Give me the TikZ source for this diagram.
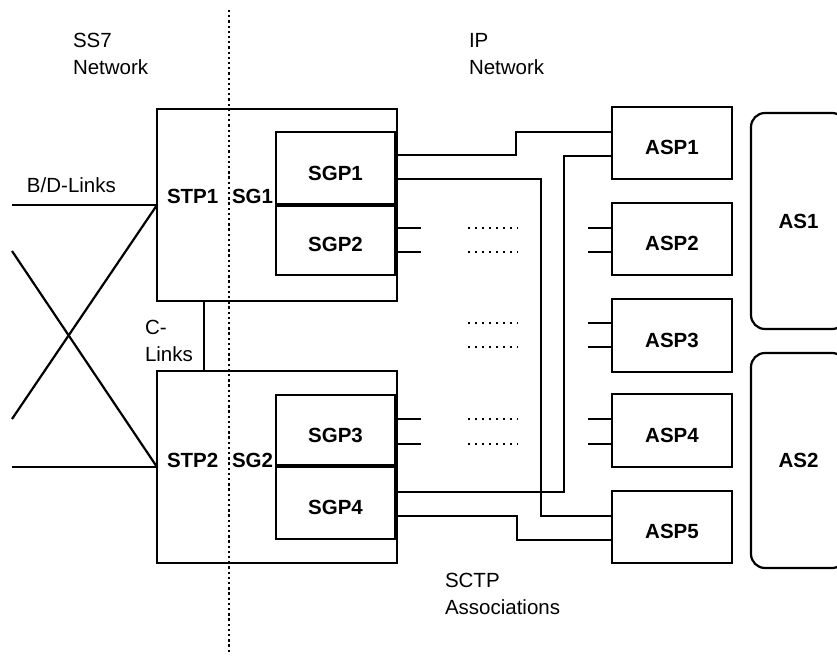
\documentclass[tikz,border=0pt]{standalone}
\usepackage{fontspec}
\setmainfont{Liberation Sans}
\begin{document}
\begin{tikzpicture}[x=1pt,y=-1pt,
  every node/.style={inner sep=0pt, outer sep=0pt, font=\fontsize{20.5}{27.5}\selectfont},
  plainbox/.style={draw, line width=2.2pt, rectangle},
  labbox/.style={draw, line width=2.2pt, rectangle, font=\fontsize{20.5}{27.5}\selectfont\bfseries, text height=23pt, text depth=0pt},
  asbox/.style={draw, line width=2.2pt, rounded corners=14pt, font=\fontsize{20.5}{27.5}\selectfont\bfseries, minimum width=95pt},
  ln/.style={line width=2.2pt},
  hdots/.style={line width=2.4pt, dash pattern=on 2.2pt off 4.8pt},
  vdots/.style={line width=2.5pt, dash pattern=on 2.3pt off 2.9pt},
  boldlab/.style={font=\fontsize{20.5}{27.5}\selectfont\bfseries, anchor=base west}
]
\useasboundingbox (0,0) rectangle (837,658);

% dotted border between networks
\coordinate (vtop) at (229,10);
\coordinate (vbot) at (229,653);
\draw[vdots] (vtop) -- (vbot);

% STP boxes
\node[plainbox, minimum width=240pt, minimum height=192pt] (stp1) at (277,205) {};
\node[plainbox, minimum width=240pt, minimum height=192pt] (stp2) at (277,467) {};

% SGP boxes
\node[labbox, minimum width=119pt, minimum height=73pt] (sgp1) at (335.5,168.5) {SGP1};
\node[labbox, minimum width=119pt, minimum height=70pt] (sgp2) at (335.5,240) {SGP2};
\node[labbox, minimum width=119pt, minimum height=71pt] (sgp3) at (335.5,430.5) {SGP3};
\node[labbox, minimum width=119pt, minimum height=73pt] (sgp4) at (335.5,502.5) {SGP4};
\draw[line width=3.6pt] (sgp1.south west) -- (sgp1.south east);
\draw[line width=3.6pt] (sgp3.south west) -- (sgp3.south east);

% ASP boxes
\node[labbox, minimum width=120pt, minimum height=72pt] (asp1) at (672,143) {ASP1};
\node[labbox, minimum width=120pt, minimum height=72pt] (asp2) at (672,239) {ASP2};
\node[labbox, minimum width=120pt, minimum height=73pt] (asp3) at (672,335.5) {ASP3};
\node[labbox, minimum width=120pt, minimum height=73pt] (asp4) at (672,430.5) {ASP4};
\node[labbox, minimum width=120pt, minimum height=72pt] (asp5) at (672,527) {ASP5};

% AS boxes
\node[asbox, minimum height=216pt] (as1) at (798.5,221) {AS1};
\node[asbox, minimum height=215pt] (as2) at (798.5,460.5) {AS2};

% SS7 links
\coordinate (bd) at (12,205);
\coordinate (xa) at (12,419);
\coordinate (xb) at (12,251);
\coordinate (lo) at (12,467);
\draw[ln] (bd) -- (stp1.west);
\draw[ln] (xa) -- (stp1.west);
\draw[ln] (xb) -- (stp2.west);
\draw[ln] (lo) -- (stp2.west);
\draw[ln] (stp1.south -| 204,0) -- (stp2.north -| 204,0);

% SCTP associations
\draw[ln] (sgp1.east |- 0,155) -- (516,155) |- (asp1.west |- 0,132);
\draw[ln] (sgp1.east |- 0,179) -- (541,179) |- (asp5.west |- 0,516);
\draw[ln] (sgp4.east |- 0,492) -- (564,492) |- (asp1.west |- 0,156);
\draw[ln] (sgp4.east |- 0,516) -- (517,516) |- (asp5.west |- 0,540);

% stubs and dotted continuations
\foreach \yy in {228,252} \draw[ln] (sgp2.east |- 0,\yy) -- (421,\yy);
\foreach \yy in {419,444} \draw[ln] (sgp3.east |- 0,\yy) -- (421,\yy);
\foreach \yy in {228,252,323,347,419,444} \draw[hdots] (468,\yy) -- (518,\yy);
\foreach \yy in {228,252} \draw[ln] (588,\yy) -- (asp2.west |- 0,\yy);
\foreach \yy in {323,347} \draw[ln] (588,\yy) -- (asp3.west |- 0,\yy);
\foreach \yy in {419,444} \draw[ln] (588,\yy) -- (asp4.west |- 0,\yy);

% labels
\node[anchor=north west, align=left] (ss7) at (73,33) {SS7\\Network};
\node[anchor=north west, align=left] (ipn) at (469,33) {IP\\Network};
\node[anchor=base west] (bdl) at (27,192) {B/D-Links};
\node[anchor=north west, align=left] (cl) at (145,320) {C-\\Links};
\node[anchor=north west, align=left] (sctp) at (445,573) {SCTP\\Associations};
\node[boldlab] (stp1l) at (167,203) {STP1};
\node[boldlab] (sg1l) at (232,203) {SG1};
\node[boldlab] (stp2l) at (167,467) {STP2};
\node[boldlab] (sg2l) at (232,467) {SG2};
\end{tikzpicture}
\end{document}
